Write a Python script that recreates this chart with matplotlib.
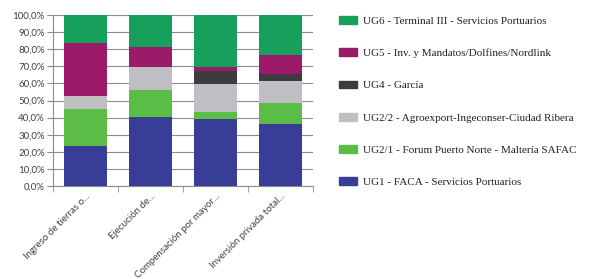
import numpy as np
import matplotlib.pyplot as plt
from matplotlib.patches import Patch

categories = ["Ingreso de tierras o...", "Ejecución de...",
              "Compensación por mayor...", "Inversión privada total..."]

series_names = ["UG1 - FACA - Servicios Portuarios",
                "UG2/1 - Forum Puerto Norte - Maltería SAFAC",
                "UG2/2 - Agroexport-Ingeconser-Ciudad Ribera",
                "UG4 - García",
                "UG5 - Inv. y Mandatos/Dolfines/Nordlink",
                "UG6 - Terminal III - Servicios Portuarios"]

ug1 = [23.4, 40.2, 39.0, 36.5]
ug2_1 = [21.7, 16.1, 4.4, 11.9]
ug2_2 = [7.6, 13.6, 16.4, 13.3]
ug4 = [0.0, 0.0, 7.4, 3.9]
ug5 = [31.1, 11.7, 2.7, 11.0]
ug6 = [16.2, 18.4, 30.1, 23.4]

colors = ["#383d98", "#5cbd46", "#bfbfc3", "#3c3c40", "#9c1b68", "#17a05c"]

series = [ug1, ug2_1, ug2_2, ug4, ug5, ug6]

fig = plt.figure(figsize=(5.96, 2.79), dpi=100)
ax = fig.add_axes([0.089, 0.333, 0.436, 0.613])

x = np.arange(len(categories))
bottom = np.zeros(len(categories))
for vals, col in zip(series, colors):
    ax.bar(x, vals, bottom=bottom, width=0.66, color=col, zorder=3)
    bottom += np.array(vals)

ax.set_xlim(-0.5, len(categories) - 0.5)
ax.set_ylim(0, 100)
ax.set_yticks(np.arange(0, 101, 10))
ax.set_yticklabels([f"{v:.1f}%".replace(".", ",") for v in range(0, 101, 10)],
                   fontsize=7, color="#404040", family="Lato")
ax.yaxis.grid(True, color="#8c8c8c", linewidth=0.8, zorder=0)
ax.tick_params(axis="y", length=4, color="#8c8c8c", pad=2)

ax.set_xticks(x)
ax.set_xticklabels(categories, rotation=45, ha="right", rotation_mode="anchor",
                   fontsize=7, color="#404040", family="Lato")
ax.tick_params(axis="x", length=0, pad=4)
ax.set_xticks(np.arange(-0.5, len(categories), 1), minor=True)
ax.tick_params(axis="x", which="minor", length=4, color="#8c8c8c")

for s in ["top", "right"]:
    ax.spines[s].set_visible(False)
ax.spines["left"].set_color("#8c8c8c")
ax.spines["bottom"].set_color("#8c8c8c")

handles = [Patch(color=c) for c in colors][::-1]
labels = series_names[::-1]
fig.legend(handles, labels, loc="upper left", bbox_to_anchor=(0.552, 0.978),
           frameon=False, prop={"family": "Liberation Serif", "size": 8},
           handlelength=1.6, handleheight=0.7, labelspacing=2.02,
           handletextpad=0.6, labelcolor="#222222")

fig.savefig("out.png", dpi=100)
